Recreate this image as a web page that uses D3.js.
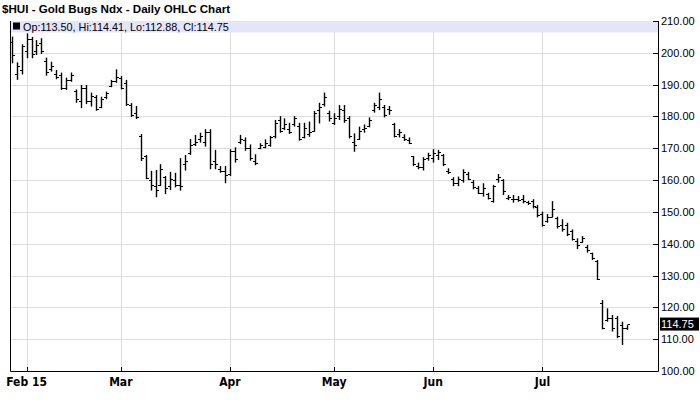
<!DOCTYPE html>
<html>
<head>
<meta charset="utf-8">
<script src="https://cdn.jsdelivr.net/npm/d3@7"></script>
<style>
  html, body { margin: 0; padding: 0; background: #fff; }
  svg { display: block; }
</style>
</head>
<body>
<svg id="chart" width="700" height="411"></svg>
<script>
// ---- DATA ----
const title = "$HUI - Gold Bugs Ndx - Daily OHLC Chart";
const holidays = ["2015-02-16", "2015-04-03", "2015-05-25", "2015-07-03"];
const startDate = "2015-01-28";
const endDate = "2015-07-27";
const monthTickLabels = ["Feb 15", "Mar", "Apr", "May", "Jun", "Jul"];
const priceTicks = [100, 110, 120, 130, 140, 150, 160, 170, 180, 190, 200, 210];
const lastQuote = { open: 113.50, high: 114.41, low: 112.88, close: 114.75 };

const opens = [203.5,193.5,194.5,200.5,204.5,200.5,203,197.5,195,193.5,193,189,191.5,188,185,189,185,186,183,186,189.5,191,192,190.5,183.5,181,
174,167.5,160,158,158.5,161,158,160,158.5,165,168.5,171.5,173,172,175,166,163.5,163,162,169,172,172.5,170,166,170,170.5,171,174,179,176.5,176,177.5,177,173.5,
174.5,175.5,182,184,181,178,180,182,179.5,172,173,176,177,182,183,183,182.5,177.5,174.5,173.5,172.5,167.5,164.5,164,167,167,168,168,163,160.5,159,160,162,159.5,
157.5,156,155.5,153.5,160.5,160,154.5,154,154,154,153,153.5,151.5,149.5,147,148.5,148,146,146,144,141,140.5,139,137,134.5,121.5,116,116.5,116.5,114.5,113.5];
const highs = [205.1,197.0,202.7,206.1,205.0,204.0,204.6,198.5,197.2,194.6,193.8,192.2,193.8,188.5,189.9,189.9,187.5,186.7,186.2,187.8,191.5,194.8,192.7,191.5,184.2,183.3,
174.5,167.9,162.9,163.2,165,161.3,162.6,162.3,166.9,167.9,172.9,174.2,174.9,176,176,169.5,164.4,164.4,169.7,170.3,174.2,173.4,171.2,168.1,171.6,172.8,173.9,178.9,180.1,179.4,178,180.1,178,178,
178.4,181.7,184.3,187.5,181.8,181,183.6,183.6,180.1,174.7,176.8,177.5,179.7,184.3,187.5,183.6,183.3,178,176,174.4,173.4,167.6,165.5,167.2,168.6,169.7,169.5,168.2,163.7,160.9,161.1,163.4,162.6,160,
158.1,159,156,158.5,161.9,160.3,155.3,155.3,155,155.3,153.5,154,152.2,150.1,149.3,153.4,148.5,147.7,146.6,144.5,141.7,142.4,139.6,137.2,134.9,122.3,119.7,117.6,117.3,115.5,114.41];
const lows = [196.7,191.5,193.2,198.3,198.3,199.3,199.6,192.8,194.1,191.7,188.3,188.3,190.9,184.3,182.6,183.9,183.1,181.8,182.6,185.4,189.2,190.6,188.5,183.3,179.8,179.2,
166,160.3,156.7,154.6,158.1,155.6,156.9,157.7,156.7,163,167.9,170.7,171.8,170.5,163.4,163.4,162.3,159,161.3,165.5,171.3,169.2,166.1,164.7,169.7,170,170.5,173.1,174.9,175.7,174.5,176.8,172.4,173.1,
173.6,175.2,177.8,183.1,178.4,177.3,178.9,178,173.1,168.9,172.6,174.9,176.6,181.2,182,179.7,180.5,173.4,173.4,172.3,171.3,164.4,163.4,163,166.1,165.5,166.3,164.4,161.9,158.1,158.1,159.2,160,157.1,
155.6,154.8,153.9,152.9,159.2,155.3,153.7,152.9,153.2,152.7,152.2,151.1,148.3,145.4,146.6,148.3,144.8,143.8,142.4,141,138.3,140.3,137.2,134.9,128.6,113.1,115.5,112.4,110.3,108.2,112.88];
const closes = [199.3,195.8,202,204.5,199.5,202.5,200.5,194,196,192.5,189,191.5,193,185.5,189,185,186.5,182.5,185.5,187.5,191,192.5,189,184,180.5,179.8,
167,160.8,158.5,157,163.5,157.5,160.5,158.5,158,166,171,172,174,175,165,165,162.8,161.5,169,166.5,173,170,167,165.5,171,171.8,173.5,178,175.5,177.5,175.2,179.5,173,176.5,
175,181,183,186,179.5,179.5,182.5,179,174,171,175.5,176.5,179,183.5,185.5,180.5,182,174,175,173,171.8,165,164,166.5,168,168.5,168.8,165,162.5,159,160.5,162.5,160.5,157.8,
156,157.5,154.5,158,161,156.5,154.8,154,153.8,153.5,152.8,152,149,146,148.5,151,145.5,144.5,143,141.5,139.5,141.8,138,135.5,129,113.5,116.5,113.5,111,113.5,114.75];

// ---- CATEGORIES (trading days) ----
const fmt = d3.utcFormat("%Y-%m-%d");
const dates = d3.utcDay.range(new Date(startDate + "T00:00:00Z"), d3.utcDay.offset(new Date(endDate + "T00:00:00Z"), 1))
  .filter(d => d.getUTCDay() !== 0 && d.getUTCDay() !== 6 && !holidays.includes(fmt(d)));

const bars = dates.map((d, i) => ({ i, date: d, o: opens[i], h: highs[i], l: lows[i], c: closes[i] }));

// first trading day of each month from February
const monthStarts = [];
for (let i = 1; i < dates.length; i++) {
  if (dates[i].getUTCMonth() !== dates[i - 1].getUTCMonth()) monthStarts.push(i);
}

// ---- LAYOUT ----
const svg = d3.select("#chart");
const plot = { left: 10, right: 658, top: 21, bottom: 371 };

const x = d3.scaleLinear().domain([-0.34, 130.3]).range([plot.left, plot.right]);
const y = d3.scaleLinear().domain([100, 210]).range([plot.bottom, plot.top]);

const g = svg.append("g");

// lavender band at top
g.append("rect")
  .attr("x", plot.left).attr("y", plot.top)
  .attr("width", plot.right - plot.left).attr("height", y(206.4) - plot.top)
  .attr("fill", "#e4e4fb");

// horizontal grid
g.selectAll("line.hgrid").data(priceTicks.filter(t => t > 100 && t < 210)).join("line")
  .attr("class", "hgrid")
  .attr("x1", plot.left).attr("x2", plot.right)
  .attr("y1", d => Math.round(y(d)) + 0.5).attr("y2", d => Math.round(y(d)) + 0.5)
  .attr("stroke", "#dcdcdc").attr("stroke-width", 1);

// vertical grid at month starts
g.selectAll("line.vgrid").data(monthStarts).join("line")
  .attr("class", "vgrid")
  .attr("x1", d => Math.round(x(d)) + 0.5).attr("x2", d => Math.round(x(d)) + 0.5)
  .attr("y1", y(206.4)).attr("y2", plot.bottom)
  .attr("stroke", "#dcdcdc").attr("stroke-width", 1);

// axis frame: left, bottom, right
g.append("path")
  .attr("d", `M${plot.left + 0.5},${plot.top}V${plot.bottom + 0.5}H${plot.right + 0.5}V${plot.top}`)
  .attr("fill", "none").attr("stroke", "#000").attr("stroke-width", 1);

// title
svg.append("text")
  .attr("x", 2).attr("y", 13)
  .attr("font-family", "Liberation Sans, Arial, sans-serif")
  .attr("font-weight", "bold").attr("font-size", 11.6)
  .text(title);

// legend in band
svg.append("rect").attr("x", 13).attr("y", 22.5).attr("width", 7).attr("height", 7).attr("fill", "#000");
svg.append("text")
  .attr("x", 23).attr("y", 30.5)
  .attr("font-family", "Liberation Sans, Arial, sans-serif")
  .attr("font-size", 10.8)
  .text(`Op:${lastQuote.open.toFixed(2)}, Hi:${lastQuote.high.toFixed(2)}, Lo:${lastQuote.low.toFixed(2)}, Cl:${lastQuote.close.toFixed(2)}`);

// OHLC bars
const bg = g.append("g");
bg.selectAll("line.hl").data(bars).join("line")
  .attr("x1", d => Math.round(x(d.i)) + 0.5).attr("x2", d => Math.round(x(d.i)) + 0.5)
  .attr("y1", d => y(d.h)).attr("y2", d => y(d.l))
  .attr("stroke", "#000").attr("stroke-width", 1.4);
bg.selectAll("line.op").data(bars).join("line")
  .attr("x1", d => Math.round(x(d.i)) - 2).attr("x2", d => Math.round(x(d.i)) + 0.5)
  .attr("y1", d => Math.round(y(d.o)) + 0.5).attr("y2", d => Math.round(y(d.o)) + 0.5)
  .attr("stroke", "#000").attr("stroke-width", 1);
bg.selectAll("line.cl").data(bars).join("line")
  .attr("x1", d => Math.round(x(d.i)) + 0.5).attr("x2", d => Math.round(x(d.i)) + 3)
  .attr("y1", d => Math.round(y(d.c)) + 0.5).attr("y2", d => Math.round(y(d.c)) + 0.5)
  .attr("stroke", "#000").attr("stroke-width", 1);

// right axis ticks and labels
const ya = svg.append("g");
ya.selectAll("line").data(priceTicks).join("line")
  .attr("x1", plot.right - 5).attr("x2", plot.right)
  .attr("y1", d => Math.round(y(d)) + 0.5).attr("y2", d => Math.round(y(d)) + 0.5)
  .attr("stroke", "#000");
ya.selectAll("text").data(priceTicks).join("text")
  .attr("x", plot.right + 3).attr("y", d => y(d) + 4)
  .attr("font-family", "Liberation Sans, Arial, sans-serif")
  .attr("font-size", 11)
  .text(d => d.toFixed(2));

// last close label
const lastY = y(lastQuote.close);
svg.append("rect").attr("x", plot.right + 2).attr("y", lastY - 6.5).attr("width", 39).attr("height", 13).attr("fill", "#000");
svg.append("text")
  .attr("x", plot.right + 3).attr("y", lastY + 4)
  .attr("font-family", "Liberation Sans, Arial, sans-serif")
  .attr("font-size", 11).attr("fill", "#fff")
  .text(lastQuote.close.toFixed(2));

// bottom axis ticks + labels
const xa = svg.append("g");
xa.selectAll("line").data(monthStarts).join("line")
  .attr("x1", d => Math.round(x(d)) + 0.5).attr("x2", d => Math.round(x(d)) + 0.5)
  .attr("y1", plot.bottom - 4).attr("y2", plot.bottom)
  .attr("stroke", "#000");
xa.selectAll("text").data(monthStarts).join("text")
  .attr("x", d => x(d)).attr("y", 386)
  .attr("text-anchor", "middle")
  .attr("font-family", "Liberation Sans Narrow, Arial Narrow, DejaVu Sans Condensed, sans-serif")
  .attr("font-weight", "bold").attr("font-size", 12)
  .text((d, k) => monthTickLabels[k]);
</script>
</body>
</html>
